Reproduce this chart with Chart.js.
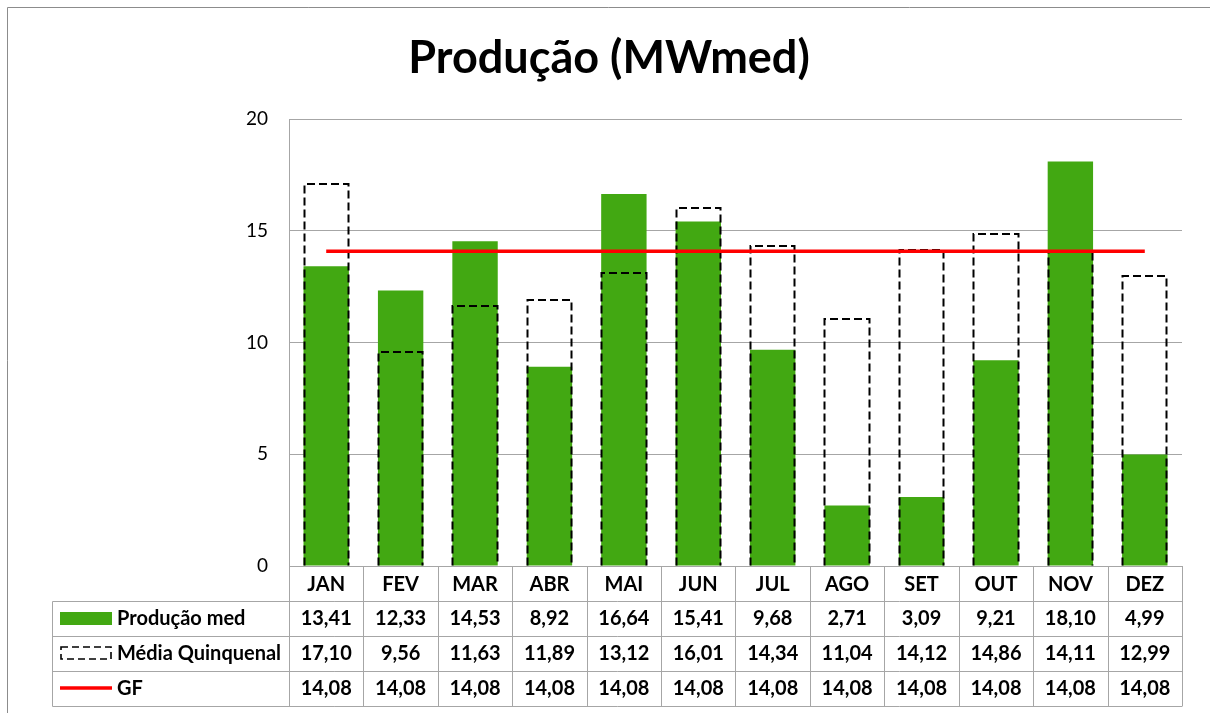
<!DOCTYPE html>
<html>
<head>
<meta charset="utf-8">
<script src="https://cdn.jsdelivr.net/npm/chart.js@4"></script>
<style>
  body { margin: 0; background: #fff; }
  #wrap { width: 1210px; height: 713px; position: relative; }
</style>
</head>
<body>
<div id="wrap"><canvas id="producaoChart"></canvas></div>
<script>
const meses = ["JAN", "FEV", "MAR", "ABR", "MAI", "JUN", "JUL", "AGO", "SET", "OUT", "NOV", "DEZ"];
const producaoMed = [13.41, 12.33, 14.53, 8.92, 16.64, 15.41, 9.68, 2.71, 3.09, 9.21, 18.10, 4.99];
const mediaQuinquenal = [17.10, 9.56, 11.63, 11.89, 13.12, 16.01, 14.34, 11.04, 14.12, 14.86, 14.11, 12.99];
const gf = [14.08, 14.08, 14.08, 14.08, 14.08, 14.08, 14.08, 14.08, 14.08, 14.08, 14.08, 14.08];
const nomesSeries = ["Produção med", "Média Quinquenal", "GF"];
const yTicks = [0, 5, 10, 15, 20];

const verde = "#42A812";
const cinza = "#A6A6A6";
const fonte = "Lato, 'Open Sans', sans-serif";

Chart.defaults.font.family = fonte;
Chart.defaults.color = "#000";

// moldura externa (so esquerda e topo aparecem)
const moldura = {
    id: "moldura",
    beforeDraw(chart) {
        const c = chart.ctx;
        c.save();
        c.fillStyle = "#fff";
        c.fillRect(0, 0, chart.width, chart.height);
        c.strokeStyle = "#8C8C8C";
        c.lineWidth = 1;
        c.beginPath();
        c.moveTo(7.5, chart.height);
        c.lineTo(7.5, 7.5);
        c.lineTo(chart.width, 7.5);
        c.stroke();
        c.restore();
    }
};

// contorno tracejado da media quinquenal
const tracejado = {
    id: "tracejado",
    afterDatasetDraw(chart, args) {
        if (args.index !== 1) return;
        const c = chart.ctx;
        c.save();
        c.strokeStyle = "#000";
        c.lineWidth = 2;
        c.setLineDash([8, 4]);
        args.meta.data.forEach(el => {
            const p = el.getProps(["x", "y", "base", "width"], true);
            const l = Math.round(p.x - p.width / 2) + 0.5;
            const r = Math.round(p.x + p.width / 2) - 0.5;
            c.beginPath();
            c.moveTo(l, p.base);
            c.lineTo(l, Math.round(p.y));
            c.lineTo(r, Math.round(p.y));
            c.lineTo(r, p.base);
            c.stroke();
        });
        c.restore();
    }
};

// tabela de dados abaixo do grafico
const tabela = {
    id: "tabela",
    afterDraw(chart) {
        const c = chart.ctx;
        const xs = chart.scales.x;
        const area = chart.chartArea;
        const meio = (xs.getPixelForValue(1) - xs.getPixelForValue(0)) / 2;
        const bordas = meses.map((m, i) => xs.getPixelForValue(i) - meio);
        bordas.push(xs.getPixelForValue(meses.length - 1) + meio);
        const xEsq = 52.5;
        const topo = area.bottom;
        const linhas = [topo, topo + 34.5, topo + 69.5, topo + 104.5, topo + 139.5];

        c.save();
        c.strokeStyle = cinza;
        c.lineWidth = 1;
        c.beginPath();
        c.moveTo(bordas[0], linhas[0] + 0.5);
        c.lineTo(bordas[12], linhas[0] + 0.5);
        for (let r = 1; r < linhas.length; r++) {
            c.moveTo(xEsq, Math.round(linhas[r]) + 0.5);
            c.lineTo(bordas[12], Math.round(linhas[r]) + 0.5);
        }
        bordas.forEach(b => {
            c.moveTo(Math.round(b) + 0.5, linhas[0]);
            c.lineTo(Math.round(b) + 0.5, Math.round(linhas[4]) + 0.5);
        });
        c.moveTo(xEsq, Math.round(linhas[1]) + 0.5);
        c.lineTo(xEsq, Math.round(linhas[4]) + 0.5);
        c.stroke();

        c.fillStyle = "#000";
        c.font = "bold 20px " + fonte;
        c.textAlign = "center";
        c.textBaseline = "middle";
        meses.forEach((m, i) => {
            c.fillText(m, xs.getPixelForValue(i), (linhas[0] + linhas[1]) / 2 + 1);
        });
        const series = [producaoMed, mediaQuinquenal, gf];
        series.forEach((s, r) => {
            const yc = (linhas[r + 1] + linhas[r + 2]) / 2 + 1;
            s.forEach((v, i) => {
                c.fillText(v.toFixed(2).replace(".", ","), xs.getPixelForValue(i), yc);
            });
        });

        // legendas na primeira coluna
        c.textAlign = "left";
        nomesSeries.forEach((n, r) => {
            c.fillText(n, 117, (linhas[r + 1] + linhas[r + 2]) / 2 + 1);
        });
        let yc = (linhas[1] + linhas[2]) / 2;
        c.fillStyle = verde;
        c.fillRect(60, yc - 6, 52, 13);
        yc = (linhas[2] + linhas[3]) / 2;
        c.strokeStyle = "#000";
        c.lineWidth = 1.6;
        c.setLineDash([7, 4]);
        c.strokeRect(61, yc - 6, 50, 12);
        c.setLineDash([]);
        yc = (linhas[3] + linhas[4]) / 2;
        c.strokeStyle = "#FF0000";
        c.lineWidth = 3.5;
        c.beginPath();
        c.moveTo(60, yc);
        c.lineTo(112, yc);
        c.stroke();
        c.restore();
    }
};

const ctx = document.getElementById("producaoChart").getContext("2d");
new Chart(ctx, {
    type: "bar",
    data: {
        labels: meses,
        datasets: [
            {
                label: nomesSeries[0],
                data: producaoMed,
                backgroundColor: verde,
                borderWidth: 0,
                grouped: false,
                categoryPercentage: 1,
                barPercentage: 0.61,
                order: 2,
            },
            {
                label: nomesSeries[1],
                data: mediaQuinquenal,
                backgroundColor: "rgba(0,0,0,0)",
                borderWidth: 0,
                grouped: false,
                categoryPercentage: 1,
                barPercentage: 0.61,
                order: 1,
            },
            {
                type: "line",
                label: nomesSeries[2],
                data: gf,
                borderColor: "#FF0000",
                borderWidth: 3.5,
                pointRadius: 0,
                fill: false,
                order: 0,
            },
        ],
    },
    options: {
        responsive: true,
        maintainAspectRatio: false,
        animation: false,
        layout: { padding: { top: 0, left: 36, right: 28, bottom: 0 } },
        plugins: {
            legend: { display: false },
            tooltip: { enabled: false },
            title: {
                display: true,
                text: "Produção (MWmed)",
                font: { size: 45, weight: "bold" },
                color: "#000",
                padding: { top: 31, bottom: 34 },
            },
        },
        scales: {
            x: {
                ticks: { display: false },
                grid: { display: false },
                border: { display: false },
                afterFit(scale) { scale.height = 147; },
            },
            y: {
                min: 0,
                max: 20,
                afterBuildTicks(scale) { scale.ticks = yTicks.map(v => ({ value: v })); },
                ticks: { font: { size: 19 }, color: "#000", padding: 21 },
                grid: { color: cinza, drawTicks: false },
                border: { display: true, color: cinza },
                afterFit(scale) { scale.width = 253; },
            },
        },
    },
    plugins: [moldura, tracejado, tabela],
});
</script>
</body>
</html>
